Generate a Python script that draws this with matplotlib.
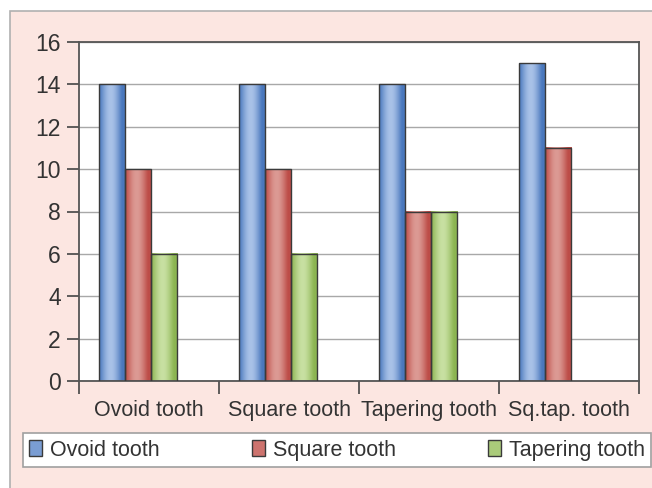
import numpy as np
import matplotlib
matplotlib.use("Agg")
import matplotlib.pyplot as plt
from matplotlib.patches import Rectangle, Patch
from matplotlib.colors import to_rgb

plt.rcParams["font.family"] = ["Liberation Sans", "DejaVu Sans"]

# data
categories = ["Ovoid tooth", "Square tooth", "Tapering tooth", "Sq.tap. tooth"]
series_names = ["Ovoid tooth", "Square tooth", "Tapering tooth"]
ovoid = [14, 14, 14, 15]
square = [10, 10, 8, 11]
tapering = [6, 6, 8, np.nan]  # no bar for Sq.tap.
y_ticks = [0, 2, 4, 6, 8, 10, 12, 14, 16]

dark = ["#4a78bd", "#bd4d48", "#8cb552"]
light = ["#a9c2e8", "#dc9a94", "#c8e0a2"]
edge = "#3a3a3a"
text_col = "#333333"

fig = plt.figure(figsize=(6.52, 4.88), dpi=100)
fig.patch.set_facecolor("white")
# pink chart area with grey border
fig.add_artist(Rectangle((10 / 652, -0.05), 1.0, (488 - 11) / 488 + 0.05,
                         transform=fig.transFigure, facecolor="#fce6e1",
                         edgecolor="#b0b0b0", lw=1.2, zorder=-10))

ax = fig.add_axes([79 / 652, 107 / 488, 560 / 652, 339 / 488])
ax.set_facecolor("white")

bar_w = 0.186
offsets = [-0.357, -0.171, 0.015]
x = np.arange(len(categories))


def shaded_bar(xl, h, c_dark, c_light):
    d = np.array(to_rgb(c_dark))
    l = np.array(to_rgb(c_light))
    t = np.linspace(0, 1, 60)
    f = np.sin(np.pi * np.clip(t * 1.15, 0, 1)) ** 1.2
    img = d[None, :] * (1 - f[:, None]) + l[None, :] * f[:, None]
    ax.imshow(img[None, :, :], extent=(xl, xl + bar_w, 0, h), aspect="auto",
              interpolation="bilinear", zorder=2)
    ax.add_patch(Rectangle((xl, 0), bar_w, h, facecolor="none",
                           edgecolor=edge, lw=1.0, zorder=3))


for vals, off, cd, cl in zip([ovoid, square, tapering], offsets, dark, light):
    for xi, v in zip(x, vals):
        if np.isnan(v):
            continue
        shaded_bar(xi + off, v, cd, cl)

ax.set_xlim(-0.5, 3.5)
ax.set_ylim(0, 16)
ax.set_yticks(y_ticks)
ax.set_yticklabels([str(v) for v in y_ticks])
ax.yaxis.grid(True, color="#a8a8a8", lw=1.0, zorder=0)
ax.set_axisbelow(True)

ax.set_xticks(x)
ax.set_xticklabels(categories)
ax.set_xticks(np.arange(-0.5, 4.0, 1.0), minor=True)
ax.tick_params(axis="x", which="major", length=0, pad=14, labelsize=15.5,
               labelcolor=text_col)
ax.tick_params(axis="x", which="minor", length=9, width=1.2, color="#444444",
               direction="out")
ax.tick_params(axis="y", length=9, width=1.2, color="#444444", pad=4,
               labelsize=16.5, labelcolor=text_col)
for s in ax.spines.values():
    s.set_color("#555555")
    s.set_linewidth(1.3)

handles = [Patch(facecolor=(np.array(to_rgb(cd)) + np.array(to_rgb(cl))) / 2,
                 edgecolor=edge, lw=1.0) for cd, cl in zip(dark, light)]
leg = fig.legend(handles, series_names, loc="lower left",
                 bbox_to_anchor=(23 / 652, 21 / 488, 628 / 652, 39 / 488),
                 ncol=3, mode="expand", fontsize=15.5, frameon=True,
                 fancybox=False, edgecolor="#a0a0a0", facecolor="white",
                 framealpha=1.0, handlelength=0.6, handleheight=0.75,
                 handletextpad=0.35, borderaxespad=0, borderpad=0.3)
leg.get_frame().set_linewidth(1.2)
for t in leg.get_texts():
    t.set_color(text_col)

fig.savefig("out.png", dpi=100)
